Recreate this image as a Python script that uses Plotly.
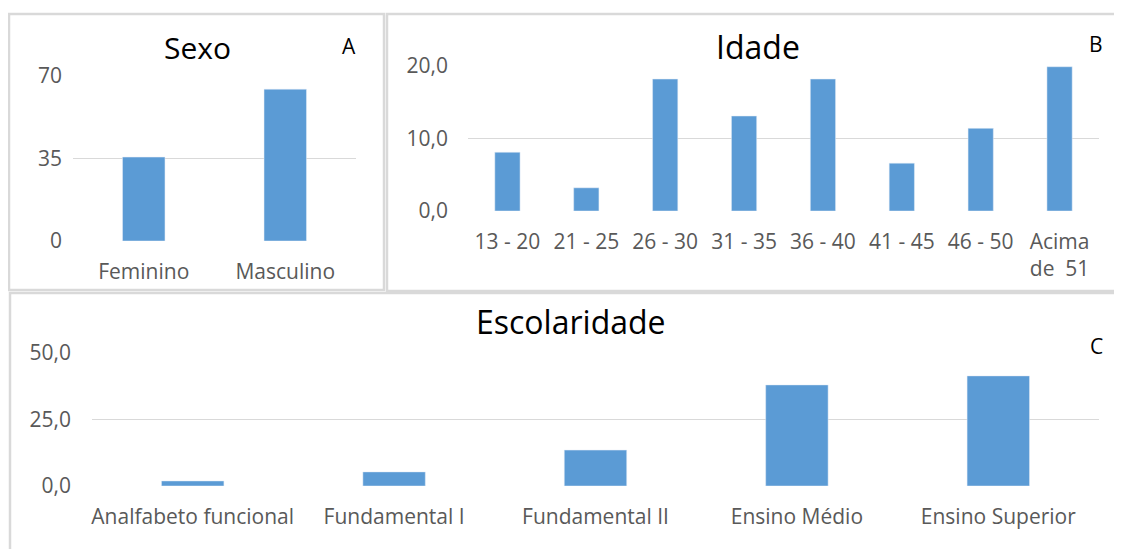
import plotly.graph_objects as go

sexo_cats = ["Feminino", "Masculino"]
sexo_vals = [35.6, 64.4]
sexo_ticks = [0, 35, 70]

idade_cats = ["13 - 20", "21 - 25", "26 - 30", "31 - 35", "36 - 40", "41 - 45", "46 - 50", "Acima<br>de  51"]
idade_vals = [8.1, 3.2, 18.2, 13.1, 18.2, 6.6, 11.4, 19.9]
idade_ticks = [0, 10, 20]

esc_cats = ["Analfabeto funcional", "Fundamental I", "Fundamental II", "Ensino Médio", "Ensino Superior"]
esc_vals = [1.9, 5.3, 13.5, 38.0, 41.4]
esc_ticks = [0, 25, 50]

OFF = 8  # page body margin
W, H = 1122 - 2 * OFF, 557 - 2 * OFF

BAR = "#5b9bd5"
GRID = "#d9d9d9"
TICK = "#595959"
FONT = "Open Sans"

def px(x):
    return (x - OFF) / W

def py(y):
    return 1 - (y - OFF) / H

fig = go.Figure()
fig.add_trace(go.Bar(x=sexo_cats, y=sexo_vals, marker_color=BAR, width=0.3, xaxis="x", yaxis="y"))
fig.add_trace(go.Bar(x=idade_cats, y=idade_vals, marker_color=BAR, width=0.32, xaxis="x2", yaxis="y2"))
fig.add_trace(go.Bar(x=esc_cats, y=esc_vals, marker_color=BAR, width=0.31, xaxis="x3", yaxis="y3"))

tickfont = dict(family=FONT, size=21, color=TICK)

def xax(dom, anchor):
    return dict(domain=dom, anchor=anchor, showgrid=False, showline=False, ticks="",
                tickfont=tickfont, fixedrange=True, tickangle=0, automargin=False,
                ticklabelstandoff=16)

def yax(dom, anchor, rng, ticks, fmt, so):
    return dict(domain=dom, anchor=anchor, range=rng, tickvals=ticks,
                ticktext=[fmt(t) for t in ticks], showgrid=True, gridcolor=GRID,
                gridwidth=1, zeroline=False, showline=False, tickfont=tickfont, ticks="",
                ticklabelstandoff=so, automargin=False, fixedrange=True)

comma = lambda t: f"{t:.1f}".replace(".", ",")

fig.update_layout(
    width=W, height=H, margin=dict(l=0, r=0, t=0, b=0, autoexpand=False),
    paper_bgcolor="white", plot_bgcolor="white", showlegend=False,
    xaxis=xax([px(73), px(356)], "y"),
    yaxis=yax([py(241), py(76)], "x", [0, 70], sexo_ticks, lambda t: str(t), 10),
    xaxis2=xax([px(468), px(1099)], "y2"),
    yaxis2=yax([py(211), py(66)], "x2", [0, 20], idade_ticks, comma, 19),
    xaxis3=xax([px(92), px(1099)], "y3"),
    yaxis3=yax([py(486), py(353)], "x3", [0, 50], esc_ticks, comma, 20),
)

shapes = [
    dict(type="rect", xref="paper", yref="paper", x0=px(9), x1=px(384), y0=py(290), y1=py(14),
         line=dict(color=GRID, width=2.5)),
    dict(type="rect", xref="paper", yref="paper", x0=px(387), x1=px(1130), y0=py(291), y1=py(14),
         line=dict(color=GRID, width=2.5)),
    dict(type="rect", xref="paper", yref="paper", x0=px(10), x1=px(1130), y0=py(570), y1=py(293),
         line=dict(color=GRID, width=2.5)),
]
fig.update_layout(shapes=shapes)

ann = []
def add(text, x, y, font, **kw):
    ann.append(dict(text=text, x=px(x), y=py(y), xref="paper", yref="paper", showarrow=False,
                    font=font, xanchor="center", yanchor="middle", **kw))
add("Sexo", 197, 47, dict(family=FONT, size=30, color="black"))
add("Idade", 758, 46, dict(family=FONT, size=32, color="black"))
add("Escolaridade", 571, 321, dict(family=FONT, size=32, color="black"))
lf = dict(family=FONT, size=21, color="black")
add("A", 349, 46, lf)
add("B", 1096, 44, lf)
add("C", 1096, 346, lf, bgcolor="white")
fig.update_layout(annotations=ann)

fig.write_html("out.html")
